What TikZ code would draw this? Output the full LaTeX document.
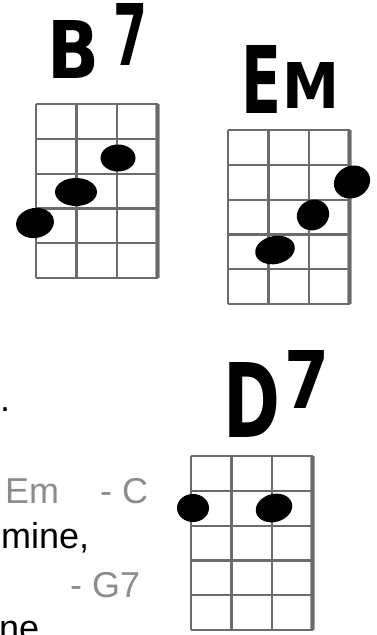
\documentclass[tikz,border=0pt]{standalone}
\usepackage{fontspec}
\setmainfont{Liberation Sans}
\newfontfamily\markerfont{DejaVu Sans}
\usepackage{graphicx}
\usepackage{tikz}
\usetikzlibrary{shapes.geometric}
\definecolor{chordgray}{HTML}{8C8C8C}
\colorlet{fretgray}{black!58}
\colorlet{edgegray}{black!35}
\tikzset{
	fretboard/w/.store in=\cellw,
	fretboard/h/.store in=\cellh,
	% Set default values
	fretboard/w=40.5, fretboard/h=34.8,
	fretline/.style={draw=fretgray, line width=2.2pt},
	edgeline/.style={draw=edgegray, line width=5pt},
	fingerdot/.style={ellipse, fill=black, inner sep=0pt},
	chordtitle/.style={font=\markerfont\bfseries, inner sep=0pt},
	lyric/.style={font=\fontsize{36}{42}\selectfont, anchor=base west, inner sep=0pt},
	chordname/.style={lyric, text=chordgray},
	% Reusable ukulele fretboard (pic)
	pics/fretboard/.style={
		code={
			\tikzset{fretboard/.cd, #1}
			\draw[edgeline] (3*\cellw,0) -- (3*\cellw,5*\cellh);
			\foreach \s in {0,...,3}
				\draw[fretline] (\s*\cellw,0) -- (\s*\cellw,5*\cellh);
			\foreach \f in {0,...,5}
				\draw[fretline] (0,\f*\cellh) -- (3*\cellw,\f*\cellh);
		}
	}
}
\begin{document}
\begin{tikzpicture}[x=1pt, y=-1pt]
	\useasboundingbox (0,0) rectangle (377,635);
	\clip (0,0) rectangle (377,635);
	% B7
	\node[chordtitle] (bB) at (74,49) {\resizebox{52pt}{58pt}{B}};
	\node[chordtitle] (bSeven) at (131,34) {\resizebox{34pt}{62pt}{7}};
	\pic at (36,104) {fretboard};
	\node[fingerdot, minimum width=35pt, minimum height=27pt] (bDotA) at (118,158) {};
	\node[fingerdot, minimum width=42pt, minimum height=28pt] (bDotB) at (76,192) {};
	\node[fingerdot, minimum width=38pt, minimum height=30pt, rotate=10] (bDotC) at (35,223) {};
	% Em
	\node[chordtitle] (eE) at (262,79) {\resizebox{40pt}{68pt}{E}};
	\node[chordtitle] (eM) at (311.5,85) {\resizebox{57pt}{46pt}{M}};
	\pic at (228,130) {fretboard};
	\node[fingerdot, minimum width=37pt, minimum height=32pt, rotate=25] (eDotA) at (352,182) {};
	\node[fingerdot, minimum width=33pt, minimum height=30pt, rotate=30] (eDotB) at (313,215) {};
	\node[fingerdot, minimum width=40pt, minimum height=28pt, rotate=12] (eDotC) at (275,250) {};
	% D7
	\node[chordtitle] (dD) at (251.5,399.5) {\resizebox{57pt}{75pt}{D}};
	\node[chordtitle] (dSeven) at (307.5,379) {\resizebox{45pt}{58pt}{7}};
	\pic at (191,456) {fretboard};
	\node[fingerdot, minimum width=32pt, minimum height=28pt] (dDotA) at (193,508) {};
	\node[fingerdot, minimum width=37pt, minimum height=28pt, rotate=15] (dDotB) at (274,508) {};
	% song text
	\node[lyric] (stop) at (0,411) {.};
	\node[chordname] (emName) at (5,503) {Em};
	\node[chordname] (cName) at (100,503) {- C};
	\node[lyric] (mine) at (1,548) {mine,};
	\node[chordname] (gName) at (70,597) {- G7};
	\node[lyric] (ne) at (-1,640) {ne};
\end{tikzpicture}
\end{document}
